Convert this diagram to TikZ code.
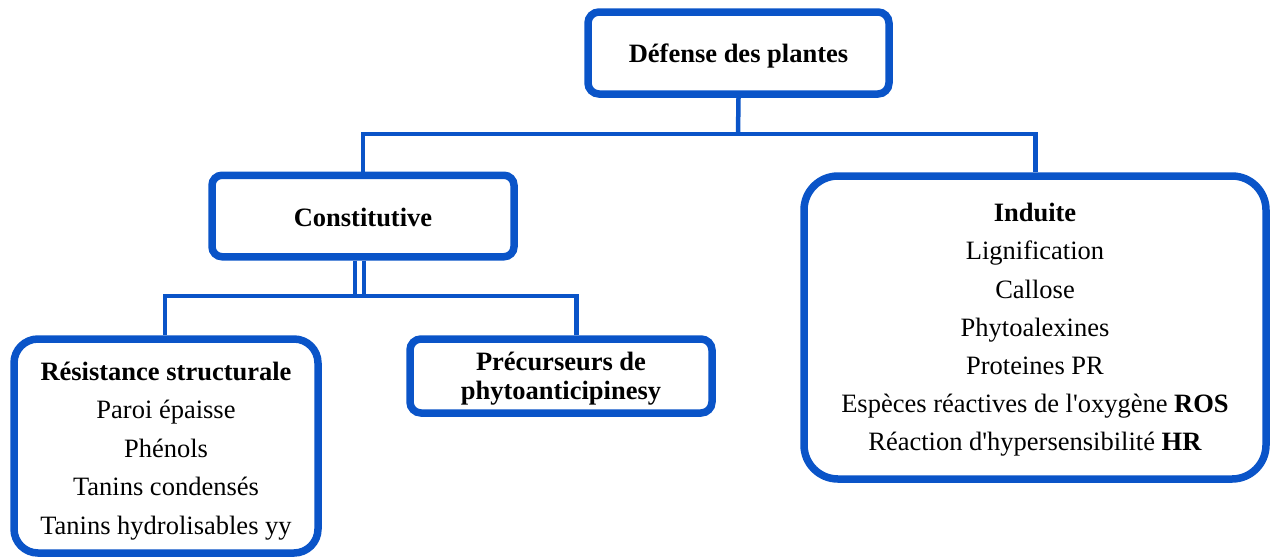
\documentclass[tikz,border=0pt]{standalone}
\usepackage{fontspec}
\setmainfont{Liberation Serif}
\definecolor{bl}{RGB}{10,84,200}
\begin{document}
\begin{tikzpicture}[x=1pt,y=-1pt,
  box/.style={draw=bl, line width=7.5pt, inner sep=0pt, fill=white},
  txt/.style={align=center, inner sep=0pt, font=\fontsize{26.5}{38.6}\selectfont},
  conn/.style={draw=bl, line width=4.5pt}]
\useasboundingbox (0,0) rectangle (1273,558);
\node[box, minimum width=301pt, minimum height=82pt, rounded corners=11pt] (top) at (738.5,53) {};
\node[txt] (topt) at ([yshift=-3pt]top.center) {\textbf{Défense des plantes}};
\node[box, minimum width=302pt, minimum height=81.5pt, rounded corners=10pt] (con) at (363,216) {};
\node[txt] (cont) at ([yshift=-1pt]con.center) {\textbf{Constitutive}};
\node[box, minimum width=304pt, minimum height=214pt, rounded corners=24pt] (res) at (166,446) {};
\node[txt] (rest) at ([yshift=-5pt]res.center)
  {\textbf{Résistance structurale}\\Paroi épaisse\\Phénols\\Tanins condensés\\Tanins hydrolisables yy};
\node[box, minimum width=302pt, minimum height=74pt, rounded corners=11pt] (pre) at (561,376) {};
\node[txt, font=\fontsize{26.5}{29.5}\selectfont\bfseries] (pret) at ([yshift=-2.5pt]pre.center) {Précurseurs de\\phytoanticipinesy};
\node[box, minimum width=462pt, minimum height=303pt, rounded corners=34pt] (ind) at (1035,327.5) {};
\node[txt, font=\fontsize{26.5}{38.2}\selectfont] (indt) at ([yshift=-2.5pt]ind.center)
  {\textbf{Induite}\\Lignification\\Callose\\Phytoalexines\\Proteines PR\\Espèces réactives de l\textquotesingle oxygène \textbf{ROS}\\Réaction d\textquotesingle hypersensibilité \textbf{HR}};
\coordinate (hb) at (738,134);
\coordinate (lb) at (360,296);
\draw[conn] (top.south) -- (hb);
\draw[conn] (con.north) |- (hb) -| ([xshift=0.5pt]ind.north);
\draw[conn] ([xshift=-8pt]con.south) |- (lb) -| ([xshift=-1pt]res.north);
\draw[conn] ([xshift=1pt]con.south) |- (lb) -| ([xshift=15.5pt]pre.north);
\end{tikzpicture}
\end{document}
